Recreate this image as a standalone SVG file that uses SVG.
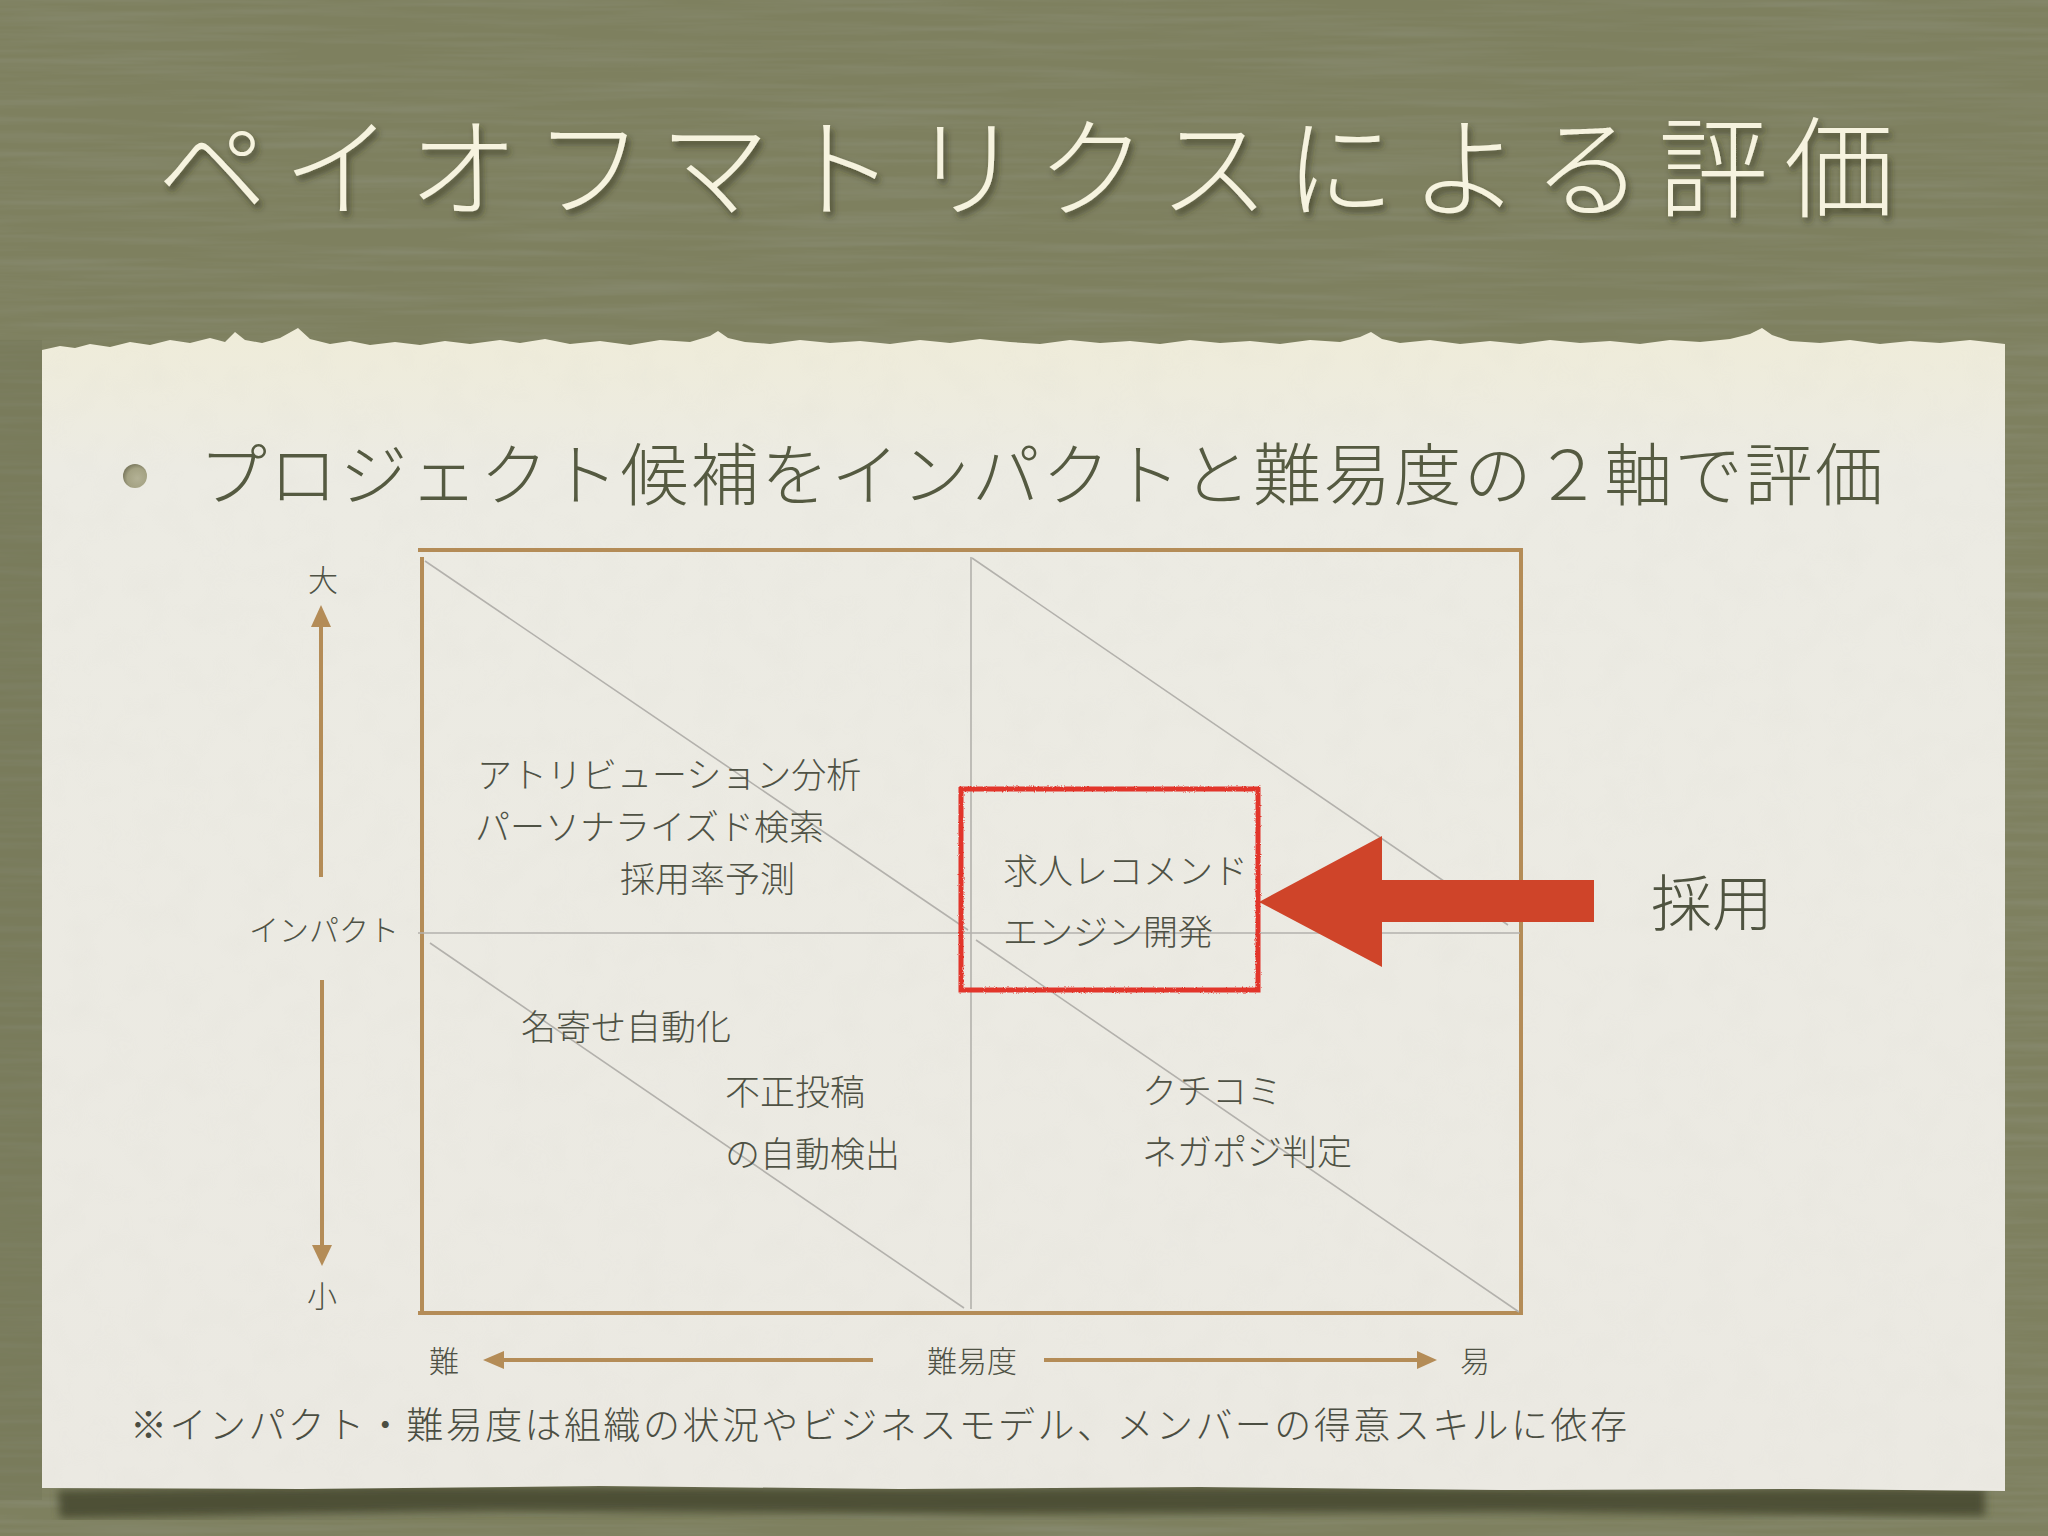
<svg xmlns="http://www.w3.org/2000/svg" width="2048" height="1536" viewBox="0 0 2048 1536">
  <defs>
    <style>
      .jp { font-family: "Noto Sans CJK JP", "Noto Sans", sans-serif; }
      .title { fill: #f6f3df; font-size: 110px; font-weight: 300; }
      .sub { fill: #555a41; font-size: 68px; font-weight: 300; }
      .q { fill: #4f5245; font-size: 35px; font-weight: 300; }
      .ax { fill: #4f5245; font-size: 30px; font-weight: 300; }
      .note { fill: #4b4e42; font-size: 37px; font-weight: 300; }
      .frame { fill: none; stroke: #b48c57; stroke-width: 4; }
      .grid { fill: none; stroke: #b3b1ac; stroke-width: 1.6; }
      .axis { stroke: #b48c57; stroke-width: 4; fill: none; }
      .axhead { fill: #b48c57; }
    </style>
    <filter id="bgtex" x="0" y="0" width="100%" height="100%">
      <feTurbulence type="fractalNoise" baseFrequency="0.004 0.12" numOctaves="3" seed="7" result="n"/>
      <feColorMatrix in="n" type="matrix" values="0 0 0 0 0.25  0 0 0 0 0.26  0 0 0 0 0.17  1.4 0 0 0 -0.55"/>
    </filter>
    <filter id="papertex" x="0" y="0" width="100%" height="100%">
      <feTurbulence type="fractalNoise" baseFrequency="0.03" numOctaves="2" seed="2" result="n"/>
      <feColorMatrix in="n" type="matrix" values="0 0 0 0 0.6  0 0 0 0 0.59  0 0 0 0 0.53  0.5 0 0 0 -0.22"/>
    </filter>
    <filter id="tshadow" x="-5%" y="-20%" width="110%" height="150%">
      <feDropShadow dx="3" dy="5" stdDeviation="3" flood-color="#30321f" flood-opacity="0.65"/>
    </filter>
    <filter id="rough" x="-5%" y="-5%" width="110%" height="110%">
      <feTurbulence type="fractalNoise" baseFrequency="0.9" numOctaves="1" seed="4" result="t"/>
      <feDisplacementMap in="SourceGraphic" in2="t" scale="3" xChannelSelector="R" yChannelSelector="G"/>
    </filter>
    <filter id="pshadow" x="-5%" y="-5%" width="110%" height="110%">
      <feGaussianBlur stdDeviation="4"/>
    </filter>
    <radialGradient id="bul" cx="0.6" cy="0.6" r="0.6">
      <stop offset="0" stop-color="#b3b195"/>
      <stop offset="0.7" stop-color="#a4a283"/>
      <stop offset="1" stop-color="#7f7d62"/>
    </radialGradient>
    <linearGradient id="paperTop" x1="0" y1="0" x2="0" y2="1">
      <stop offset="0" stop-color="#efecd9"/>
      <stop offset="0.12" stop-color="#ecebe3"/>
      <stop offset="1" stop-color="#ebe9e2"/>
    </linearGradient>
  </defs>

  <!-- background -->
  <rect x="0" y="0" width="2048" height="1536" fill="#7e805f"/>
  <rect x="0" y="0" width="2048" height="1536" filter="url(#bgtex)"/>
  <rect x="0" y="340" width="42" height="1160" fill="#6e7052" opacity="0.3"/>

  <!-- title -->
  <g id="title">
    <text class="jp title" x="157" y="209" textLength="1737" lengthAdjust="spacing" filter="url(#tshadow)">ペイオフマトリクスによる評価</text>
  </g>

  <!-- paper -->
  <g id="paper">
    <path d="M58,1490 L400,1486 L900,1488 L1300,1487 L1700,1489 L1985,1488 L1985,1516 L1500,1512 L1000,1514 L500,1511 L60,1518 Z" fill="#45472f" opacity="0.85" filter="url(#pshadow)"/>
    <path fill="url(#paperTop)" d="M42,350 L60,346 L75,348 L90,344 L110,347 L130,342 L150,345 L170,340 L190,343 L210,338 L225,342 L235,332 L245,340 L262,343 L280,338 L298,328 L310,339 L330,344 L350,341 L370,345 L395,342 L420,345 L445,341 L470,344 L500,340 L520,343 L545,339 L570,344 L600,341 L630,345 L660,340 L690,342 L710,336 L718,331 L728,338 L745,342 L770,344 L800,340 L830,343 L860,341 L890,344 L920,340 L950,343 L980,339 L1010,342 L1040,344 L1070,340 L1100,343 L1130,341 L1160,344 L1190,340 L1220,343 L1250,341 L1280,344 L1310,340 L1340,342 L1360,337 L1371,332 L1382,339 L1400,343 L1430,340 L1460,344 L1490,341 L1520,344 L1550,340 L1580,343 L1610,341 L1640,344 L1670,340 L1700,342 L1730,339 L1750,334 L1762,328 L1772,335 L1790,341 L1820,343 L1850,340 L1880,344 L1910,341 L1940,343 L1970,340 L2005,344 L2005,1491 L1800,1489 L1500,1490 L1200,1487 L900,1489 L600,1486 L300,1489 L42,1488 Z"/>
    <rect x="42" y="350" width="1963" height="1138" filter="url(#papertex)" opacity="0.25"/>
  </g>

  <!-- subtitle bullet -->
  <g id="subtitle">
    <circle cx="135" cy="476" r="12" fill="url(#bul)"/>
    <text class="jp sub" x="199" y="500" textLength="1684" lengthAdjust="spacing">プロジェクト候補をインパクトと難易度の２軸で評価</text>
  </g>

  <!-- matrix frame and grid -->
  <g id="matrix">
    <line class="frame" x1="418" y1="550" x2="1523" y2="550"/>
    <line class="frame" x1="1521" y1="550" x2="1521" y2="1315"/>
    <line class="frame" x1="418" y1="1313" x2="1523" y2="1313"/>
    <line class="frame" x1="422" y1="557" x2="422" y2="1315"/>
    <line class="grid" x1="971" y1="557" x2="971" y2="1309"/>
    <line class="grid" x1="418" y1="933" x2="1520" y2="933"/>
    <line class="grid" x1="425" y1="561" x2="968" y2="930"/>
    <line class="grid" x1="430" y1="943" x2="964" y2="1308"/>
    <line class="grid" x1="972" y1="558" x2="1508" y2="925"/>
    <line class="grid" x1="976" y1="940" x2="1519" y2="1312"/>
  </g>

  <!-- axis labels -->
  <g id="axis-impact">
    <text class="jp ax" x="323" y="591" text-anchor="middle">大</text>
    <text class="jp ax" x="324" y="941" text-anchor="middle">インパクト</text>
    <text class="jp ax" x="322" y="1307" text-anchor="middle">小</text>
  </g>
  <g id="axis-difficulty">
    <text class="jp ax" x="444" y="1372" text-anchor="middle" font-size="31">難</text>
    <text class="jp ax" x="972" y="1372" text-anchor="middle" font-size="32">難易度</text>
    <text class="jp ax" x="1475" y="1372" text-anchor="middle" font-size="31">易</text>
  </g>

  <!-- quadrant items -->
  <g id="q-top-left">
    <text class="jp q" x="477" y="788">アトリビューション分析</text>
    <text class="jp q" x="475" y="840">パーソナライズド検索</text>
    <text class="jp q" x="620" y="892">採用率予測</text>
  </g>
  <g id="q-bottom-left">
    <text class="jp q" x="521" y="1040">名寄せ自動化</text>
    <text class="jp q" x="725" y="1105">不正投稿</text>
    <text class="jp q" x="725" y="1167">の自動検出</text>
  </g>
  <g id="q-bottom-right">
    <text class="jp q" x="1142" y="1104">クチコミ</text>
    <text class="jp q" x="1142" y="1165">ネガポジ判定</text>
  </g>
  <g id="selected">
    <rect x="961" y="789" width="297" height="201" fill="none" stroke="#e2352a" stroke-width="5" filter="url(#rough)"/>
    <text class="jp q" x="1003" y="884">求人レコメンド</text>
    <text class="jp q" x="1003" y="945">エンジン開発</text>
  </g>
  <g id="label-adopt">
    <text class="jp" x="1651" y="926" font-size="61" font-weight="300" fill="#4f5340">採用</text>
  </g>

  <!-- connectors -->
  <g id="connectors">
    <line class="axis" x1="321" y1="622" x2="321" y2="877"/>
    <polygon class="axhead" points="321,605 311,627 331,627"/>
    <line class="axis" x1="322" y1="980" x2="322" y2="1248"/>
    <polygon class="axhead" points="312,1245 332,1245 322,1266"/>
    <line class="axis" x1="500" y1="1360" x2="873" y2="1360"/>
    <polygon class="axhead" points="483,1360 504,1351 504,1369"/>
    <line class="axis" x1="1044" y1="1360" x2="1421" y2="1360"/>
    <polygon class="axhead" points="1437,1360 1417,1351 1417,1369"/>
    <polygon fill="#cf4429" points="1259,902 1382,836 1382,880 1594,880 1594,922 1382,922 1382,967"/>
  </g>

  <!-- footnote -->
  <g id="footnote">
    <text class="jp note" x="130" y="1439" textLength="1497" lengthAdjust="spacing">※インパクト・難易度は組織の状況やビジネスモデル、メンバーの得意スキルに依存</text>
  </g>
</svg>
